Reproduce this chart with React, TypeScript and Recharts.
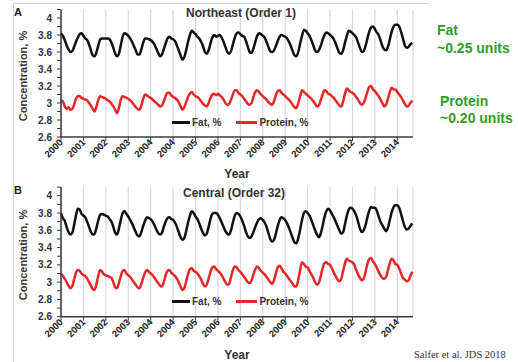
import React from 'react';
import { LineChart, Line, XAxis, YAxis, CartesianGrid, Legend } from 'recharts';

// x axis: one tick per year (the source axis really does show 2004 twice)
const yearLabels = ['2000', '2001', '2002', '2003', '2004', '2004', '2005', '2006', '2007', '2008', '2009', '2010', '2011', '2012', '2013', '2014'];
const yearTicks = [0, 1, 2, 3, 4, 5, 6, 7, 8, 9, 10, 11, 12, 13, 14, 15];

const yTicks = [2.6, 2.7, 2.8, 2.9, 3, 3.1, 3.2, 3.3, 3.4, 3.5, 3.6, 3.7, 3.8, 3.9, 4, 4.1];
const yLabelled = [2.6, 2.8, 3, 3.2, 3.4, 3.6, 3.8, 4];

// monthly values, one row per year (last row ends in September)
const neFat = [
  3.82, 3.79, 3.74, 3.68, 3.63, 3.60, 3.61, 3.66, 3.72, 3.77, 3.81, 3.82,
  3.79, 3.76, 3.74, 3.69, 3.62, 3.56, 3.55, 3.60, 3.68, 3.75, 3.76, 3.76,
  3.76, 3.76, 3.75, 3.71, 3.65, 3.58, 3.55, 3.58, 3.68, 3.78, 3.82, 3.81,
  3.79, 3.76, 3.72, 3.67, 3.62, 3.57, 3.57, 3.63, 3.71, 3.76, 3.76, 3.75,
  3.74, 3.72, 3.69, 3.64, 3.59, 3.55, 3.57, 3.63, 3.70, 3.76, 3.78, 3.76,
  3.75, 3.73, 3.68, 3.62, 3.56, 3.51, 3.54, 3.62, 3.72, 3.80, 3.85, 3.83,
  3.81, 3.78, 3.76, 3.72, 3.67, 3.60, 3.58, 3.62, 3.70, 3.77, 3.80, 3.78,
  3.79, 3.80, 3.77, 3.72, 3.66, 3.60, 3.58, 3.61, 3.69, 3.77, 3.82, 3.83,
  3.81, 3.79, 3.78, 3.73, 3.66, 3.60, 3.59, 3.64, 3.72, 3.79, 3.82, 3.81,
  3.79, 3.77, 3.72, 3.66, 3.61, 3.60, 3.62, 3.67, 3.73, 3.78, 3.80, 3.79,
  3.78, 3.76, 3.72, 3.67, 3.61, 3.56, 3.55, 3.60, 3.70, 3.79, 3.86, 3.85,
  3.82, 3.79, 3.74, 3.68, 3.62, 3.60, 3.62, 3.67, 3.74, 3.80, 3.83, 3.82,
  3.80, 3.78, 3.75, 3.70, 3.64, 3.59, 3.58, 3.62, 3.71, 3.79, 3.85, 3.84,
  3.82, 3.80, 3.77, 3.71, 3.65, 3.60, 3.61, 3.67, 3.76, 3.84, 3.89, 3.90,
  3.87, 3.83, 3.80, 3.74, 3.67, 3.63, 3.62, 3.66, 3.75, 3.84, 3.90, 3.92,
  3.92, 3.90, 3.84, 3.76, 3.68, 3.65, 3.66, 3.69, 3.71,
];

const neProtein = [
  3.03, 3.02, 2.96, 2.93, 2.95, 2.92, 2.93, 2.98, 3.05, 3.08, 3.08, 3.06,
  3.05, 3.04, 3.03, 3.00, 2.97, 2.93, 2.90, 2.96, 3.04, 3.08, 3.07, 3.06,
  3.05, 3.03, 3.02, 2.99, 2.96, 2.92, 2.88, 2.94, 3.04, 3.08, 3.07, 3.06,
  3.05, 3.03, 3.01, 2.98, 2.95, 2.93, 2.92, 2.97, 3.05, 3.10, 3.09, 3.07,
  3.06, 3.04, 3.02, 3.00, 2.98, 2.96, 2.97, 3.02, 3.08, 3.12, 3.12, 3.09,
  3.07, 3.06, 3.04, 3.01, 2.96, 2.92, 2.95, 3.01, 3.07, 3.11, 3.13, 3.10,
  3.08, 3.07, 3.05, 3.02, 2.99, 2.97, 2.96, 3.00, 3.06, 3.10, 3.11, 3.09,
  3.11, 3.09, 3.07, 3.04, 3.00, 2.98, 2.99, 3.04, 3.10, 3.15, 3.15, 3.12,
  3.10, 3.08, 3.05, 3.02, 2.99, 2.98, 3.00, 3.07, 3.13, 3.15, 3.13, 3.10,
  3.08, 3.06, 3.04, 3.01, 2.99, 2.98, 3.02, 3.09, 3.14, 3.15, 3.12, 3.10,
  3.08, 3.06, 3.04, 3.01, 2.98, 2.95, 2.94, 3.00, 3.08, 3.15, 3.13, 3.11,
  3.09, 3.07, 3.05, 3.02, 2.99, 2.96, 2.97, 3.03, 3.10, 3.15, 3.14, 3.11,
  3.10, 3.08, 3.06, 3.03, 3.00, 2.97, 2.96, 3.02, 3.11, 3.17, 3.15, 3.13,
  3.12, 3.10, 3.07, 3.04, 3.00, 2.98, 3.00, 3.06, 3.13, 3.19, 3.20, 3.16,
  3.14, 3.11, 3.08, 3.04, 3.00, 2.96, 2.98, 3.05, 3.13, 3.18, 3.16, 3.16,
  3.13, 3.10, 3.07, 3.03, 2.99, 2.96, 2.97, 3.00, 3.03,
];

const ctFat = [
  3.80, 3.74, 3.71, 3.64, 3.58, 3.55, 3.57, 3.66, 3.77, 3.85, 3.84, 3.79,
  3.77, 3.75, 3.70, 3.64, 3.58, 3.55, 3.56, 3.63, 3.72, 3.78, 3.79, 3.78,
  3.77, 3.76, 3.73, 3.70, 3.64, 3.57, 3.55, 3.62, 3.72, 3.80, 3.82, 3.79,
  3.76, 3.72, 3.68, 3.63, 3.58, 3.54, 3.53, 3.58, 3.65, 3.71, 3.75, 3.74,
  3.73, 3.70, 3.66, 3.61, 3.57, 3.55, 3.57, 3.64, 3.70, 3.74, 3.75, 3.73,
  3.72, 3.69, 3.64, 3.58, 3.52, 3.49, 3.51, 3.59, 3.69, 3.77, 3.82, 3.80,
  3.76, 3.73, 3.68, 3.62, 3.57, 3.54, 3.56, 3.64, 3.73, 3.79, 3.80, 3.80,
  3.78, 3.74, 3.69, 3.64, 3.59, 3.56, 3.55, 3.60, 3.69, 3.77, 3.80, 3.79,
  3.76, 3.71, 3.65, 3.58, 3.53, 3.51, 3.53, 3.58, 3.64, 3.69, 3.73, 3.74,
  3.72, 3.69, 3.64, 3.57, 3.50, 3.47, 3.49, 3.56, 3.65, 3.72, 3.75, 3.74,
  3.72, 3.68, 3.63, 3.57, 3.51, 3.46, 3.45, 3.51, 3.61, 3.72, 3.80, 3.82,
  3.80, 3.77, 3.72, 3.66, 3.60, 3.55, 3.52, 3.56, 3.65, 3.75, 3.82, 3.85,
  3.83, 3.79, 3.75, 3.70, 3.65, 3.60, 3.56, 3.58, 3.67, 3.77, 3.84, 3.86,
  3.85, 3.82, 3.77, 3.70, 3.62, 3.58, 3.60, 3.66, 3.75, 3.83, 3.87, 3.86,
  3.86, 3.83, 3.76, 3.70, 3.66, 3.62, 3.59, 3.63, 3.72, 3.81, 3.87, 3.89,
  3.89, 3.86, 3.79, 3.71, 3.64, 3.61, 3.62, 3.65, 3.68,
];

const ctProtein = [
  3.10, 3.07, 3.04, 3.00, 2.96, 2.93, 2.95, 3.03, 3.11, 3.14, 3.13, 3.10,
  3.08, 3.07, 3.04, 3.00, 2.96, 2.92, 2.91, 2.98, 3.08, 3.14, 3.12, 3.09,
  3.08, 3.07, 3.06, 3.05, 3.00, 2.94, 2.93, 2.99, 3.07, 3.13, 3.14, 3.10,
  3.08, 3.06, 3.03, 3.00, 2.97, 2.94, 2.93, 2.98, 3.05, 3.11, 3.14, 3.12,
  3.10, 3.08, 3.05, 3.02, 2.99, 2.96, 2.95, 3.00, 3.08, 3.13, 3.14, 3.11,
  3.09, 3.07, 3.04, 3.00, 2.95, 2.91, 2.93, 3.01, 3.09, 3.15, 3.16, 3.13,
  3.12, 3.10, 3.07, 3.03, 2.98, 2.95, 2.97, 3.04, 3.12, 3.17, 3.18, 3.15,
  3.13, 3.11, 3.08, 3.04, 3.00, 2.97, 2.98, 3.06, 3.14, 3.18, 3.17, 3.14,
  3.12, 3.09, 3.06, 3.03, 3.00, 2.99, 3.02, 3.09, 3.15, 3.18, 3.16, 3.13,
  3.11, 3.09, 3.06, 3.03, 3.00, 2.98, 3.02, 3.10, 3.17, 3.19, 3.16, 3.12,
  3.10, 3.07, 3.04, 3.01, 2.98, 2.95, 2.95, 3.03, 3.14, 3.23, 3.21, 3.18,
  3.17, 3.13, 3.09, 3.05, 3.00, 2.97, 2.99, 3.07, 3.16, 3.22, 3.23, 3.21,
  3.20, 3.16, 3.11, 3.07, 3.03, 3.01, 3.04, 3.13, 3.22, 3.27, 3.25, 3.24,
  3.23, 3.20, 3.14, 3.09, 3.05, 3.02, 3.04, 3.12, 3.21, 3.27, 3.28, 3.24,
  3.21, 3.17, 3.12, 3.08, 3.05, 3.04, 3.06, 3.14, 3.22, 3.27, 3.25, 3.21,
  3.20, 3.16, 3.10, 3.05, 3.03, 3.01, 3.02, 3.07, 3.12,
];

const FONT = '"Liberation Sans", Arial, Helvetica, sans-serif';
const AXIS = '#3a3a3a';
const FAT = '#111111';
const PROTEIN = '#e8262a';
const GREEN = '#2e9e26';

// t = years since Jan 2000, one row per month
const buildRows = (fat: number[], protein: number[]) =>
  fat.map((f, i) => ({ t: i / 12, fat: f, protein: protein[i] }));

const neRows = buildRows(neFat, neProtein);
const ctRows = buildRows(ctFat, ctProtein);

const XTick = (props: any) => {
  const { x, y, payload } = props;
  return (
    <g transform={`translate(${x + 2.5},${y})`}>
      <text textAnchor="end" transform="rotate(-45)" fontSize={9.5} fontWeight="bold" fill="#222" fontFamily={FONT}>
        {yearLabels[payload.value]}
      </text>
    </g>
  );
};

const YTick = (props: any) => {
  const { x, y, payload } = props;
  if (!yLabelled.includes(payload.value)) return <g />;
  return (
    <text x={x} y={y} dy="0.355em" textAnchor="end" fontSize={10} fontWeight="bold" fill="#333" fontFamily={FONT}>
      {payload.value}
    </text>
  );
};

const LegendContent = (props: any) => (
  <div style={{ display: 'flex', alignItems: 'center', fontFamily: FONT, fontSize: 10, fontWeight: 'bold', color: '#333', whiteSpace: 'nowrap', lineHeight: '12px' }}>
    {(props.payload || []).map((e: any, i: number) => (
      <span key={i} style={{ display: 'flex', alignItems: 'center', marginRight: 15 }}>
        <span style={{ display: 'inline-block', width: i === 0 ? 18 : 21, height: 3, background: e.color, marginRight: 2 }} />
        {e.value}
      </span>
    ))}
  </div>
);

type PanelProps = {
  rows: { t: number; fat: number; protein: number }[];
  top: number;
  height: number;
  margin: { top: number; right: number; bottom: number; left: number };
  legendTop: number;
};

const Panel = ({ rows, top, height, margin, legendTop }: PanelProps) => (
  <div style={{ position: 'absolute', left: 0, top }}>
    <LineChart width={430} height={height} data={rows} margin={margin}>
      <CartesianGrid horizontal={false} stroke="#d9d9d9" strokeWidth={1.2} />
      <XAxis
        dataKey="t"
        type="number"
        domain={[0, 15.7]}
        ticks={yearTicks}
        interval={0}
        height={30}
        tickSize={4}
        tickMargin={2}
        tick={<XTick />}
        axisLine={{ stroke: AXIS, strokeWidth: 1.5 }}
        tickLine={{ stroke: AXIS }}
      />
      <YAxis
        type="number"
        domain={[2.6, 4.1]}
        ticks={yTicks}
        interval={0}
        width={40}
        tickSize={4}
        tickMargin={5}
        tick={<YTick />}
        axisLine={{ stroke: AXIS, strokeWidth: 1.5 }}
        tickLine={{ stroke: AXIS }}
      />
      <Legend
        verticalAlign="middle"
        align="center"
        content={<LegendContent />}
        wrapperStyle={{ left: 172, top: legendTop, width: 'auto', height: 12 }}
      />
      <Line type="monotone" dataKey="fat" name="Fat, %" stroke={FAT} strokeWidth={2.5} dot={false} isAnimationActive={false} />
      <Line type="monotone" dataKey="protein" name="Protein, %" stroke={PROTEIN} strokeWidth={2.5} dot={false} isAnimationActive={false} />
    </LineChart>
  </div>
);

const bold = { fontFamily: FONT, fontWeight: 'bold' as const };

export default function App() {
  return (
    <div style={{ position: 'absolute', left: 0, top: 0, width: 518, height: 362, background: '#fff', overflow: 'hidden' }}>
      <Panel rows={neRows} top={0} height={180} margin={{ top: 9.5, right: 17, bottom: 13, left: 21 }} legendTop={116.5} />
      <Panel rows={ctRows} top={180} height={182} margin={{ top: 7.1, right: 17, bottom: 15.3, left: 21 }} legendTop={115.5} />
      <svg width={518} height={362} style={{ position: 'absolute', left: 0, top: 0, pointerEvents: 'none' }}>
        <line x1={13.5} y1={3.5} x2={428} y2={3.5} stroke="#d4d4d4" />
        <line x1={13.5} y1={3.5} x2={13.5} y2={362} stroke="#d4d4d4" />

        <text x={14} y={15.5} fontSize={11} fill="#222" {...bold}>A</text>
        <text x={14} y={193.5} fontSize={11} fill="#222" {...bold}>B</text>

        <text x={241} y={17} fontSize={12} textAnchor="middle" fill="#333" {...bold}>Northeast (Order 1)</text>
        <text x={234} y={196.5} fontSize={12} textAnchor="middle" fill="#333" {...bold}>Central (Order 32)</text>

        <text transform="translate(27,76) rotate(-90)" fontSize={11} textAnchor="middle" fill="#333" {...bold}>Concentration, %</text>
        <text transform="translate(27,255) rotate(-90)" fontSize={11} textAnchor="middle" fill="#333" {...bold}>Concentration, %</text>

        <text x={237} y={177.5} fontSize={12} textAnchor="middle" fill="#333" {...bold}>Year</text>
        <text x={237} y={359} fontSize={12} textAnchor="middle" fill="#333" {...bold}>Year</text>

        <text x={437} y={35} fontSize={14} fill={GREEN} {...bold}>Fat</text>
        <text x={437} y={53} fontSize={14} fill={GREEN} {...bold}>~0.25 units</text>
        <text x={440} y={106} fontSize={14} fill={GREEN} {...bold}>Protein</text>
        <text x={440} y={123} fontSize={14} fill={GREEN} {...bold}>~0.20 units</text>

        <text x={414} y={358} fontSize={10.5} fill="#333" fontFamily='"Liberation Serif", "Times New Roman", serif'>Salfer et al. JDS 2018</text>
      </svg>
    </div>
  );
}
